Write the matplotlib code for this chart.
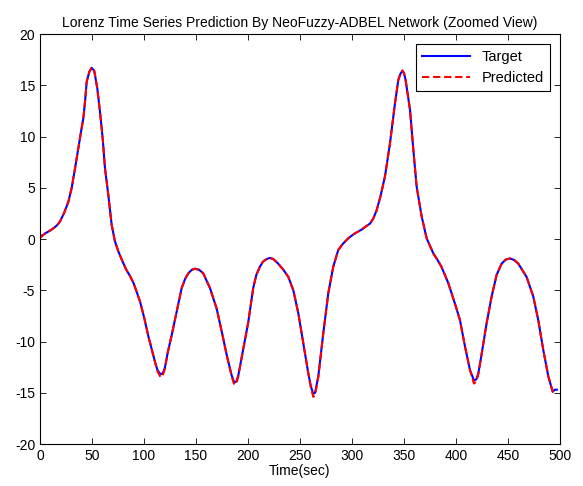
import matplotlib
matplotlib.use('Agg')
import matplotlib.pyplot as plt

plt.rcParams['font.family'] = ['Liberation Sans', 'DejaVu Sans']
plt.rcParams['axes.unicode_minus'] = False

# time samples
t = [0, 5, 11, 16, 19.2, 23, 27.2, 30.5, 33.7, 36.8, 39.5, 41.7, 43.5, 44.9,
     47.4, 49.7, 52.2, 55.1, 57.7, 60.3, 62.5, 65.7, 68.9, 72, 75.3, 79, 83,
     86.5, 90, 96.2, 100, 104, 107.5, 110.6, 113, 116, 118, 120, 123, 126.6,
     131.4, 136.2, 139.5, 142.6, 146, 149, 153, 157, 163.5, 169.9, 174.7,
     179.5, 184.3, 186.8, 188.8, 190.7, 195.5, 200.3, 205, 208, 211.5, 214.5,
     218, 221, 224.3, 229, 234, 238.8, 243.6, 248.4, 253.2, 258, 260.5, 262.8,
     264.5, 267.6, 272.4, 277.2, 282, 286.8, 291, 296.4, 302, 309, 313, 317.3,
     320.5, 323.7, 327.5, 331.7, 336.5, 341.3, 344.5, 346.5, 348.4, 350,
     351.6, 355.8, 359, 362.2, 367, 371.8, 378.2, 382, 386, 392.6, 399, 403.8,
     408.7, 413.5, 417.3, 419.5, 421.5, 424.7, 429.5, 434.3, 439.1, 443.9,
     448, 451.9, 456, 459.9, 467.9, 474.3, 479.1, 483.9, 488.8, 493, 495, 497]

target = [0.2, 0.55, 0.9, 1.3, 1.7, 2.5, 3.6, 5.0, 6.9, 8.85, 10.5, 11.8, 13.6,
          15.35, 16.3, 16.7, 16.4, 14.7, 12.4, 9.8, 6.9, 4.3, 1.4, -0.2, -1.2,
          -2.1, -3.0, -3.6, -4.3, -6.1, -7.6, -9.4, -10.8, -12.0, -12.8, -13.2,
          -13.1, -12.6, -11.0, -9.4, -7.1, -4.8, -3.9, -3.35, -3.0, -2.9, -3.0,
          -3.35, -4.8, -6.8, -9.0, -11.3, -13.3, -14.0, -13.9, -13.3, -10.7,
          -8.1, -4.8, -3.5, -2.7, -2.2, -1.95, -1.85, -1.95, -2.4, -3.0, -3.7,
          -5.0, -7.25, -10.2, -13.1, -14.4, -15.1, -15.0, -13.4, -9.2, -5.3,
          -2.7, -1.07, -0.5, 0.07, 0.5, 0.9, 1.2, 1.5, 2.0, 2.8, 4.2, 6.1, 9.3,
          13.2, 15.5, 16.1, 16.4, 16.2, 15.5, 12.6, 8.7, 5.1, 2.2, 0.07, -1.4,
          -2.0, -2.7, -4.3, -6.3, -7.9, -10.5, -12.8, -13.8, -13.7, -13.1,
          -11.2, -8.2, -5.6, -3.5, -2.4, -2.0, -1.9, -2.05, -2.4, -3.7, -5.6,
          -7.9, -10.8, -13.4, -14.9, -14.7, -14.7]

predicted = [0.1, 0.55, 0.9, 1.3, 1.7, 2.5, 3.6, 5.0, 6.9, 8.85, 10.5, 11.8,
             13.6, 15.35, 16.3, 16.75, 16.4, 14.7, 12.4, 9.8, 6.9, 4.3, 1.4,
             -0.2, -1.2, -2.1, -3.0, -3.6, -4.3, -6.1, -7.6, -9.4, -10.8,
             -12.0, -12.9, -13.5, -13.3, -12.7, -11.0, -9.4, -7.1, -4.8, -3.9,
             -3.35, -3.0, -2.9, -3.0, -3.35, -4.8, -6.8, -9.0, -11.3, -13.4,
             -14.2, -14.1, -13.4, -10.7, -8.1, -4.8, -3.5, -2.7, -2.2, -1.95,
             -1.85, -1.95, -2.4, -3.0, -3.7, -5.0, -7.25, -10.2, -13.1, -14.5,
             -15.4, -15.2, -13.5, -9.2, -5.3, -2.7, -1.07, -0.5, 0.07, 0.5,
             0.9, 1.2, 1.5, 2.0, 2.8, 4.2, 6.1, 9.3, 13.2, 15.5, 16.1, 16.45,
             16.2, 15.5, 12.6, 8.7, 5.1, 2.2, 0.07, -1.4, -2.0, -2.7, -4.3,
             -6.3, -7.9, -10.5, -12.8, -14.1, -13.9, -13.2, -11.2, -8.2, -5.6,
             -3.5, -2.4, -2.0, -1.9, -2.05, -2.4, -3.7, -5.6, -7.9, -10.8,
             -13.4, -14.9, -15.0, -14.9]

fig = plt.figure(figsize=(5.83, 4.86), dpi=100)
ax = fig.add_axes([0.0686, 0.0864, 0.8919, 0.8436])

ax.plot(t, target, color='#0000ff', lw=1.5, label='Target')
ax.plot(t, predicted, color='#ff0000', lw=1.5, ls=(0, (3.5, 1.8)),
        label='Predicted')

ax.set_xlim(0, 500)
ax.set_ylim(-20, 20)
ax.set_xticks(range(0, 501, 50))
ax.set_yticks(range(-20, 21, 5))
ax.tick_params(direction='in', top=True, right=True, labelsize=10, length=4,
               width=0.6)
for s in ax.spines.values():
    s.set_linewidth(0.8)

ax.set_title('Lorenz Time Series Prediction By NeoFuzzy-ADBEL Network (Zoomed View)',
             fontsize=10, pad=5)
ax.set_xlabel('Time(sec)', fontsize=10, labelpad=1)

leg = ax.legend(loc='upper right', fontsize=10.5, handlelength=3.3,
                fancybox=False, framealpha=1, edgecolor='black',
                borderaxespad=0.7)
leg.get_frame().set_linewidth(0.8)

fig.savefig('out.png', dpi=100)
